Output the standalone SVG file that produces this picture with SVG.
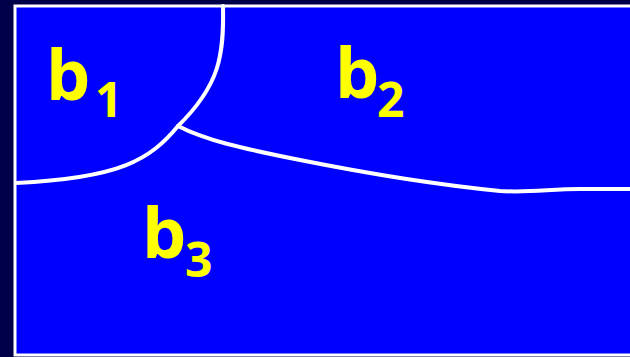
<svg xmlns="http://www.w3.org/2000/svg" width="630" height="357" viewBox="0 0 630 357">
<style>
.div{fill:none;stroke:#fff;stroke-width:4;stroke-linecap:round;stroke-linejoin:round}
.lbl{font-family:"Open Sans","Liberation Sans",sans-serif;font-weight:bold;fill:#ffff00}
.main{font-size:70px}
.sub{font-size:48px}
</style>
<rect x="0" y="0" width="630" height="357" fill="#00004a"/>
<rect x="15" y="6" width="630" height="349" fill="#0000ff" stroke="#ffffff" stroke-width="3"/>
<g id="connectors">
<path class="div" d="M223,6 C224,55 220,85 178,126 C150,160 120,178 16,183"/>
<path class="div" d="M178,126 C205,140 240,148 300,160 C360,172 440,185 500,191 C530,193 550,189 580,189 L630,189"/>
</g>
<g id="b1"><text class="lbl main" x="46" y="100">b</text><text class="lbl sub" x="95" y="117">1</text></g>
<g id="b2"><text class="lbl main" x="335" y="98">b</text><text class="lbl sub" x="377" y="117">2</text></g>
<g id="b3"><text class="lbl main" x="142" y="258">b</text><text class="lbl sub" x="185" y="277">3</text></g>
</svg>
